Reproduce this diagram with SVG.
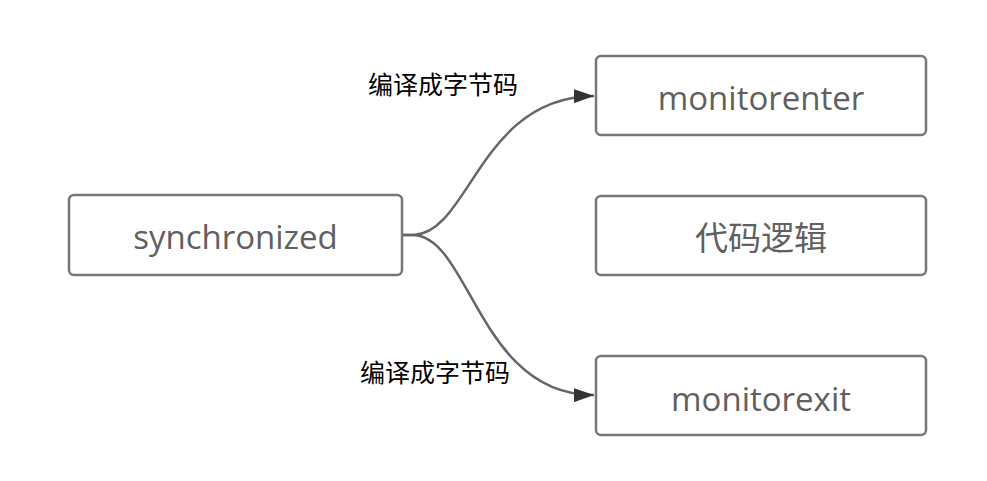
<svg xmlns="http://www.w3.org/2000/svg" width="987" height="481" viewBox="0 0 987 481">
<style>
.box{fill:#fff;stroke:#777;stroke-width:2.5}
.nt{font-family:"Open Sans","Noto Sans CJK SC",sans-serif;font-size:33px;fill:#606060;text-anchor:middle;dominant-baseline:central}
.lbl{font-family:"Noto Sans CJK SC",sans-serif;font-size:25px;fill:#000}
.edge{fill:none;stroke:#666;stroke-width:2.5}
</style>
<defs>
<marker id="ah" viewBox="0 0 20 14" refX="20" refY="7" markerWidth="20" markerHeight="14" orient="auto" markerUnits="userSpaceOnUse">
<path d="M0,0 L20,7 L0,14 Z" fill="#333"/>
</marker>
</defs>
<rect width="987" height="481" fill="#fff"/>
<g id="connectors">
<path class="edge" d="M402,235 L414,235 C470,232 480,97 594,96" marker-end="url(#ah)"/>
<path class="edge" d="M402,235 L414,235 C470,238 480,396 594,395" marker-end="url(#ah)"/>
</g>
<g id="node-synchronized">
<rect class="box" x="69" y="195" width="333" height="80" rx="5"/>
<text class="nt" x="235.5" y="236">synchronized</text>
</g>
<g id="node-monitorenter">
<rect class="box" x="596" y="56" width="330" height="79" rx="5"/>
<text class="nt" x="761" y="97">monitorenter</text>
</g>
<g id="node-logic">
<rect class="box" x="596" y="196" width="330" height="79" rx="5"/>
<text class="nt" x="761" y="237">代码逻辑</text>
</g>
<g id="node-monitorexit">
<rect class="box" x="596" y="356" width="330" height="79" rx="5"/>
<text class="nt" x="761" y="398">monitorexit</text>
</g>
<g id="labels">
<text class="lbl" x="368" y="94">编译成字节码</text>
<text class="lbl" x="360" y="382">编译成字节码</text>
</g>
</svg>
